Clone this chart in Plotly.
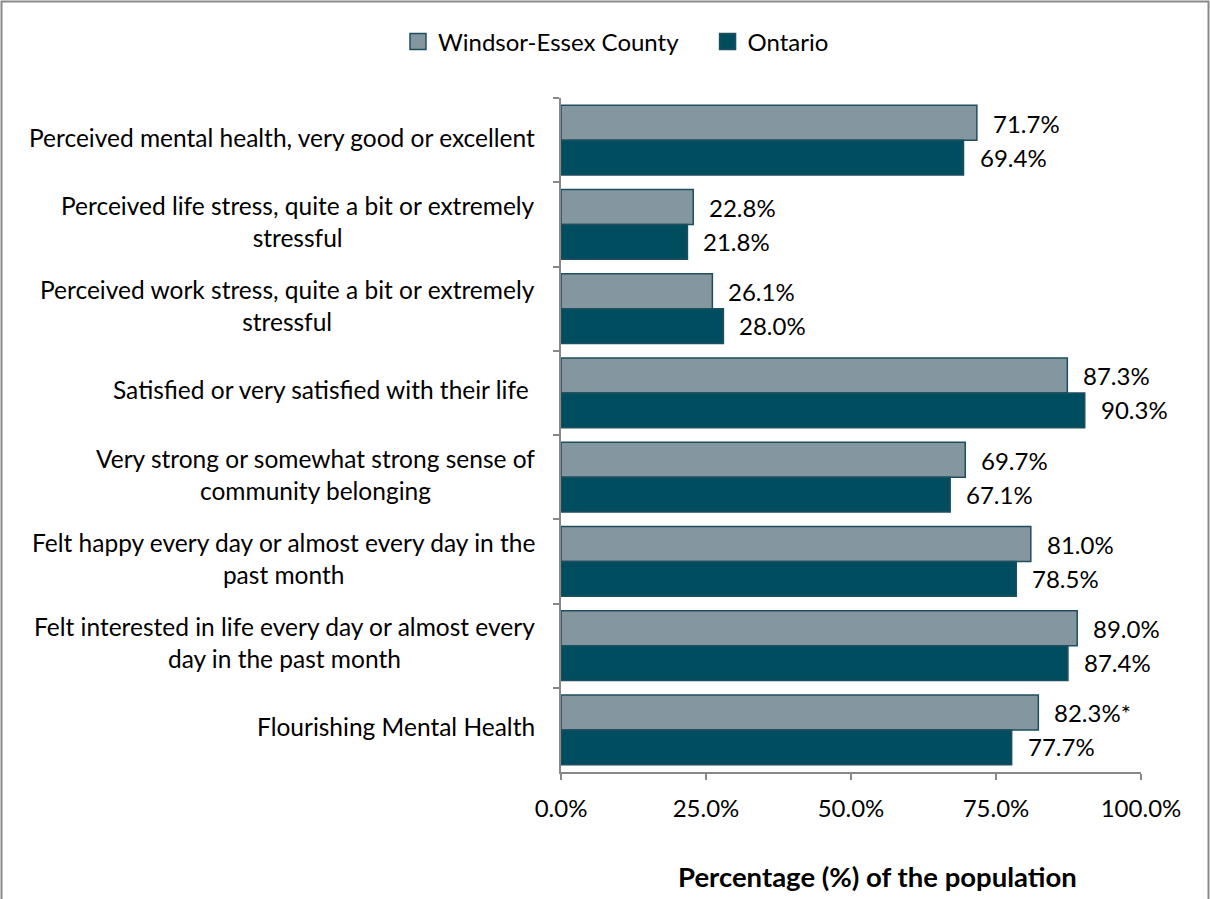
import plotly.graph_objects as go

# Mental health indicators, Windsor-Essex County vs Ontario (% of population)
categories = [
    "Perceived mental health, very good or excellent",
    "Perceived life stress, quite a bit or extremely<br>stressful",
    "Perceived work stress, quite a bit or extremely<br>stressful",
    "Satisfied or very satisfied with their life ",
    "Very strong or somewhat strong sense of<br>community belonging",
    "Felt happy every day or almost every day in the<br>past month",
    "Felt interested in life every day or almost every<br>day in the past month",
    "Flourishing Mental Health",
]
windsor_essex = [71.7, 22.8, 26.1, 87.3, 69.7, 81.0, 89.0, 82.3]
ontario = [69.4, 21.8, 28.0, 90.3, 67.1, 78.5, 87.4, 77.7]
windsor_flags = ["", "", "", "", "", "", "", "*"]
ontario_flags = ["", "", "", "", "", "", "", ""]
x_ticks = [0, 25, 50, 75, 100]
x_tick_text = [f"{t:.1f}%" for t in x_ticks]

FONT = "Lato, Calibri, Carlito, sans-serif"
GREY_BAR = "#84969F"
TEAL_BAR = "#004D60"
OUTLINE = "#1E4F5E"
AXIS = "#888888"
LABEL_SIZE = 24.5
VALUE_SIZE = 24
NBSP = "\u00a0"

# plot area in pixels (used to place paper-referenced items)
PL, PR, PT, PB = 561, 1141, 98, 772
def px_x(px):
    return (px - PL) / (PR - PL)
def px_y(py):
    return (PB - py) / (PB - PT)

cat_ids = [f"c{i}" for i in range(len(categories))]

fig = go.Figure()
fig.add_trace(go.Bar(
    name="Windsor-Essex County", y=cat_ids, x=windsor_essex, orientation="h",
    marker=dict(color=GREY_BAR, line=dict(color=OUTLINE, width=1.5)),
    showlegend=False,
))
fig.add_trace(go.Bar(
    name="Ontario", y=cat_ids, x=ontario, orientation="h",
    marker=dict(color=TEAL_BAR, line=dict(color=OUTLINE, width=1.5)),
    showlegend=False,
))
# legend keys drawn as larger outlined squares (padding widens the gap between entries)
for name, col in [("Windsor-Essex County" + NBSP * 4, GREY_BAR), ("Ontario", TEAL_BAR)]:
    fig.add_trace(go.Scatter(
        name=name, x=[None], y=[None], mode="markers",
        marker=dict(symbol="square", size=17, color=col,
                    line=dict(color=OUTLINE, width=1.5)),
    ))

annotations = []
# value labels to the right of each bar
for cid, v, f in zip(cat_ids, windsor_essex, windsor_flags):
    annotations.append(dict(x=v, y=cid, xref="x", yref="y", text=f"{v:.1f}%{f}",
                            showarrow=False, xanchor="left", yanchor="middle",
                            xshift=14, yshift=17, font=dict(size=VALUE_SIZE, color="#000")))
for cid, v, f in zip(cat_ids, ontario, ontario_flags):
    annotations.append(dict(x=v, y=cid, xref="x", yref="y", text=f"{v:.1f}%{f}",
                            showarrow=False, xanchor="left", yanchor="middle",
                            xshift=14, yshift=-17, font=dict(size=VALUE_SIZE, color="#000")))
# category labels, block right-aligned, lines centred
for cid, name in zip(cat_ids, categories):
    annotations.append(dict(x=0, y=cid, xref="paper", yref="y", text=name,
                            showarrow=False, xanchor="right", yanchor="middle",
                            align="center", xshift=-24, yshift=3,
                            font=dict(size=LABEL_SIZE, color="#000")))
# axis title
annotations.append(dict(x=px_x(877), y=px_y(876), xref="paper", yref="paper",
                        text="<b>Percentage (%) of the population</b>", showarrow=False,
                        xanchor="center", yanchor="middle",
                        font=dict(size=27.5, color="#000")))

fig.update_layout(
    width=1210, height=899,
    margin=dict(l=PL, r=1210 - PR, t=PT, b=899 - PB),
    paper_bgcolor="white", plot_bgcolor="white",
    font=dict(family=FONT, size=LABEL_SIZE, color="#000"),
    barmode="group", bargap=0.17, bargroupgap=0,
    showlegend=True,
    legend=dict(orientation="h", xref="container", yref="container",
                x=398 / 1210, y=1 - 42 / 899, xanchor="left", yanchor="middle",
                font=dict(size=24), tracegroupgap=0, traceorder="normal",
                itemwidth=30),
    annotations=annotations,
    shapes=[dict(type="rect", xref="paper", yref="paper",
                 x0=px_x(1.5), x1=px_x(1208.5), y0=px_y(905), y1=px_y(1.5),
                 line=dict(color="#8A8A8A", width=2), layer="below")],
)
fig.update_xaxes(range=[0, 100], tickvals=x_ticks, ticktext=x_tick_text,
                 showline=True, linecolor=AXIS, linewidth=1.5, ticks="outside",
                 ticklen=6, tickcolor=AXIS, tickwidth=1.5, showgrid=False,
                 zeroline=False, tickfont=dict(size=24), ticklabelstandoff=8)
fig.update_yaxes(autorange="reversed", showticklabels=False, showline=True,
                 linecolor=AXIS, linewidth=1.5, ticks="outside", ticklen=6,
                 tickcolor=AXIS, tickwidth=1.5, tickson="boundaries", showgrid=False)

fig.write_html("out.html")
